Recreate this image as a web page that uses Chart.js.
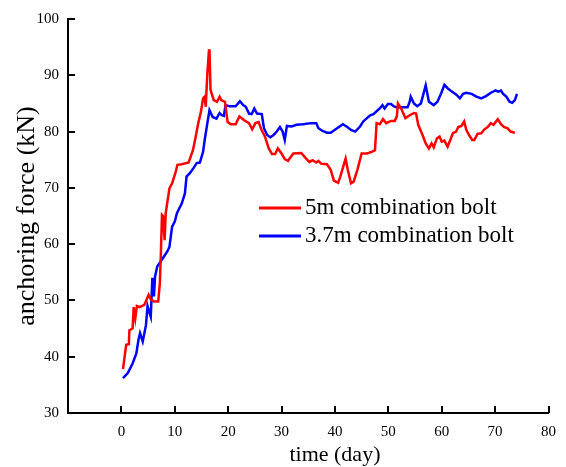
<!DOCTYPE html>
<html>
<head>
<meta charset="utf-8">
<script src="https://cdn.jsdelivr.net/npm/chart.js@4/dist/chart.umd.min.js"></script>
<style>
  html, body { margin: 0; padding: 0; background: #fff; }
  #wrap { width: 566px; height: 467px; }
</style>
</head>
<body>
<div id="wrap"><canvas id="chart"></canvas></div>
<script>
// 5m combination bolt
var redDays = [0.3, 0.9, 1.4, 1.5, 2.1, 2.3, 2.6, 2.9, 3.4, 4.3, 5.1, 5.5, 6.1, 6.9, 7.2, 7.4, 7.6, 7.8, 8.1, 8.3,
  9.0, 9.5, 10.1, 10.5, 11.3, 12.6, 13.4, 13.8, 14.4, 14.9, 15.3, 15.6, 15.8, 16.1, 16.4, 16.5, 16.7, 17.3, 17.9, 18.4,
  18.7, 19.4, 19.9, 20.5, 21.4, 22.1, 23.0, 23.9, 24.5, 25.1, 25.7, 26.2, 26.9, 27.6, 28.2, 28.8, 29.3, 30.0, 30.6, 31.2,
  32.2, 33.7, 34.6, 35.2, 35.8, 36.5, 36.9, 37.4, 38.5, 39.2, 39.8, 40.6, 41.0, 42.0, 42.4, 43.0, 43.5, 44.2, 45.0, 46.0,
  46.9, 47.5, 47.8, 48.4, 49.0, 49.6, 50.5, 51.2, 51.6, 51.8, 52.4, 53.2, 54.0, 54.8, 55.2, 55.6, 56.4, 57.0, 57.6, 58.1,
  58.5, 59.1, 59.6, 60.0, 60.5, 61.1, 61.6, 62.1, 62.7, 63.1, 63.7, 64.2, 64.6, 65.1, 65.7, 66.1, 66.7, 67.4, 68.0, 68.6,
  69.2, 69.7, 70.5, 71.1, 71.7, 72.3, 72.9, 73.7];
var redForce = [37.8, 42.1, 42.2, 44.7, 45.0, 48.8, 46.8, 49.0, 48.8, 49.2, 51.0, 50.2, 49.8, 49.8, 53.0, 58.4, 65.2, 65.0, 60.7, 65.5,
  69.9, 70.8, 72.6, 74.1, 74.2, 74.5, 76.7, 78.5, 81.5, 83.5, 85.9, 86.2, 84.4, 90.3, 94.4, 94.4, 87.4, 85.6, 85.3, 86.2,
  85.6, 85.3, 81.7, 81.3, 81.3, 82.7, 82.0, 81.5, 80.4, 81.5, 81.7, 80.4, 79.1, 77.0, 76.0, 76.0, 77.0, 76.1, 75.1, 74.8,
  76.1, 76.2, 75.2, 74.6, 74.9, 74.5, 74.8, 74.3, 74.2, 73.2, 71.3, 70.9, 72.0, 75.2, 73.2, 70.8, 71.1, 73.2, 76.1, 76.1,
  76.4, 76.7, 81.5, 81.3, 82.2, 81.5, 81.9, 81.9, 82.7, 85.0, 84.1, 82.4, 82.9, 83.3, 83.2, 81.2, 79.4, 77.9, 77.0, 77.9,
  77.2, 78.8, 79.1, 78.2, 78.4, 77.3, 78.5, 79.7, 80.0, 80.8, 81.0, 81.8, 80.3, 79.4, 78.5, 78.5, 79.6, 79.7, 80.4, 80.8,
  81.5, 81.2, 82.2, 81.3, 80.8, 80.6, 80.0, 79.8];

// 3.7m combination bolt
var blueDays = [0.3, 1.2, 2.1, 2.8, 3.2, 3.5, 4.0, 4.6, 4.9, 5.3, 5.5, 5.8, 6.1, 6.3, 6.7, 7.7, 8.6, 9.0, 9.5, 10.0,
  10.4, 11.3, 11.9, 12.2, 12.9, 13.5, 14.1, 14.7, 15.3, 15.6, 16.1, 16.5, 17.1, 17.8, 18.4, 18.8, 19.2, 19.5, 20.2, 21.4,
  22.2, 22.8, 23.3, 23.9, 24.4, 24.9, 25.4, 26.3, 26.7, 27.3, 27.9, 28.5, 29.1, 29.7, 30.2, 30.6, 31.0, 31.9, 32.8, 34.0,
  35.5, 36.5, 36.9, 37.7, 38.5, 39.2, 40.4, 41.5, 42.3, 43.0, 43.8, 44.7, 45.3, 46.0, 46.6, 47.2, 47.9, 48.4, 48.9, 49.3,
  49.9, 50.5, 51.0, 51.5, 53.6, 54.0, 54.2, 54.8, 55.4, 56.1, 57.0, 57.6, 58.5, 59.2, 59.9, 60.5, 61.1, 61.9, 62.8, 63.4,
  64.0, 64.6, 65.6, 66.5, 67.4, 68.3, 69.2, 70.1, 70.6, 71.1, 71.5, 72.1, 72.7, 73.2, 73.7, 74.1];
var blueForce = [36.2, 37.1, 38.8, 40.6, 43.0, 44.2, 42.7, 45.6, 49.0, 47.7, 47.1, 54.0, 50.7, 54.2, 56.0, 57.4, 58.7, 59.5, 63.1, 64.0,
  65.5, 67.2, 69.0, 72.0, 72.7, 73.5, 74.4, 74.5, 76.4, 78.5, 81.5, 83.8, 82.6, 82.3, 83.3, 82.9, 82.8, 84.7, 84.5, 84.5,
  85.4, 84.7, 84.4, 83.2, 83.1, 84.1, 83.2, 83.1, 80.6, 79.4, 79.0, 79.4, 80.0, 80.8, 80.0, 78.5, 81.0, 80.9, 81.2, 81.3,
  81.5, 81.5, 80.6, 80.1, 79.8, 79.8, 80.6, 81.3, 80.8, 80.3, 80.0, 80.9, 81.8, 82.4, 82.9, 83.1, 83.7, 84.1, 84.7, 84.1,
  84.9, 84.9, 84.5, 84.3, 84.3, 85.3, 86.2, 85.0, 84.5, 85.0, 88.2, 85.3, 84.7, 85.3, 86.8, 88.3, 87.7, 87.1, 86.5, 85.9,
  86.7, 86.9, 86.7, 86.2, 85.9, 86.3, 86.9, 87.3, 87.1, 87.3, 86.7, 86.2, 85.3, 85.1, 85.6, 86.7];

var seriesNames = ['5m combination bolt', '3.7m combination bolt'];
var seriesColors = ['#ff0000', '#0000ff'];
var xTicks = [0, 10, 20, 30, 40, 50, 60, 70, 80];
var yTicks = [30, 40, 50, 60, 70, 80, 90, 100];
var xTitle = 'time (day)';
var yTitle = 'anchoring force (kN)';

function pairs(xs, ys) {
  return xs.map(function (x, i) { return { x: x, y: ys[i] }; });
}

var serif = '"Liberation Serif", "Times New Roman", serif';

// inward ticks, axis titles and the legend inside the plot
var decor = {
  id: 'decor',
  afterDraw: function (chart) {
    var ctx = chart.ctx;
    var xs = chart.scales.x, ys = chart.scales.y;
    var area = chart.chartArea;
    ctx.save();
    ctx.strokeStyle = '#000';
    ctx.lineWidth = 2;
    xTicks.forEach(function (v) {
      var px = Math.round(xs.getPixelForValue(v));
      ctx.beginPath();
      ctx.moveTo(px, area.bottom);
      ctx.lineTo(px, area.bottom - 7);
      ctx.stroke();
    });
    yTicks.forEach(function (v) {
      var py = Math.round(ys.getPixelForValue(v));
      ctx.beginPath();
      ctx.moveTo(area.left, py);
      ctx.lineTo(area.left + 7, py);
      ctx.stroke();
    });

    ctx.fillStyle = '#000';
    ctx.textAlign = 'center';
    ctx.textBaseline = 'middle';
    ctx.font = '22px ' + serif;
    var cx = (xs.getPixelForValue(xTicks[0]) + xs.getPixelForValue(xTicks[xTicks.length - 1])) / 2;
    ctx.fillText(xTitle, cx, 455);
    ctx.save();
    ctx.font = '26px ' + serif;
    ctx.translate(27, (area.top + area.bottom) / 2);
    ctx.rotate(-Math.PI / 2);
    ctx.fillText(yTitle, 0, 0);
    ctx.restore();

    ctx.textAlign = 'left';
    ctx.font = '23px ' + serif;
    ctx.lineWidth = 3;
    seriesNames.forEach(function (name, i) {
      var y = 208 + i * 28;
      ctx.strokeStyle = seriesColors[i];
      ctx.beginPath();
      ctx.moveTo(259, y);
      ctx.lineTo(301, y);
      ctx.stroke();
      ctx.fillText(name, 305, y);
    });
    ctx.restore();
  }
};

new Chart(document.getElementById('chart'), {
  type: 'line',
  data: {
    datasets: [
      { label: seriesNames[0], data: pairs(redDays, redForce), borderColor: seriesColors[0], borderWidth: 2.5, pointRadius: 0, tension: 0, fill: false },
      { label: seriesNames[1], data: pairs(blueDays, blueForce), borderColor: seriesColors[1], borderWidth: 2.5, pointRadius: 0, tension: 0, fill: false }
    ]
  },
  options: {
    responsive: true,
    maintainAspectRatio: false,
    animation: false,
    layout: { padding: { top: 19, right: 9, left: 0, bottom: 0 } },
    plugins: {
      legend: { display: false },
      tooltip: { enabled: false }
    },
    scales: {
      x: {
        type: 'linear',
        min: -10,
        max: 80,
        afterFit: function (s) { s.height = 54; },
        afterBuildTicks: function (s) { s.ticks = xTicks.map(function (v) { return { value: v }; }); },
        ticks: { padding: 10, color: '#000', font: { family: serif, size: 15 }, maxRotation: 0 },
        grid: { display: false, drawTicks: false },
        border: { display: true, color: '#000', width: 2 }
      },
      y: {
        min: 30,
        max: 100,
        afterFit: function (s) { s.width = 68; },
        afterBuildTicks: function (s) { s.ticks = yTicks.map(function (v) { return { value: v }; }); },
        ticks: { padding: 9, color: '#000', font: { family: serif, size: 15 } },
        grid: { display: false, drawTicks: false },
        border: { display: true, color: '#000', width: 2 }
      }
    }
  },
  plugins: [decor]
});
</script>
</body>
</html>
